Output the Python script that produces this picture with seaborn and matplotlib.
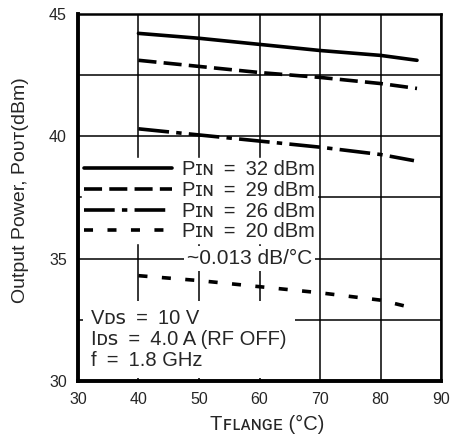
import numpy as np
import pandas as pd
import seaborn as sns
import matplotlib.pyplot as plt

# Datos (temperatura de brida vs potencia de salida)
temp = [40, 50, 60, 70, 80, 86]
pout_32 = [44.2, 44.0, 43.75, 43.5, 43.3, 43.1]
pout_29 = [43.1, 42.85, 42.6, 42.4, 42.15, 41.95]
temp_26 = [40, 50, 60, 70, 80, 85.5]
pout_26 = [40.3, 40.05, 39.8, 39.55, 39.25, 39.0]
temp_20 = [40, 50, 60, 70, 80, 85]
pout_20 = [34.3, 34.1, 33.85, 33.6, 33.3, 33.0]

sp = "\u2002"
labels = [f"Pɪɴ{sp}={sp}32 dBm", f"Pɪɴ{sp}={sp}29 dBm", f"Pɪɴ{sp}={sp}26 dBm", f"Pɪɴ{sp}={sp}20 dBm"]
x_ticks = [30, 40, 50, 60, 70, 80, 90]
y_ticks = [30, 35, 40, 45]

sns.set_style("white")
plt.rcParams['font.family'] = ['Liberation Sans', 'DejaVu Sans']

df = pd.concat([
    pd.DataFrame({'T': temp, 'P': pout_32, 'serie': labels[0]}),
    pd.DataFrame({'T': temp, 'P': pout_29, 'serie': labels[1]}),
    pd.DataFrame({'T': temp_26, 'P': pout_26, 'serie': labels[2]}),
    pd.DataFrame({'T': temp_20, 'P': pout_20, 'serie': labels[3]}),
])

estilos = {labels[0]: "", labels[1]: (5, 2), labels[2]: (8.5, 2, 1.5, 2), labels[3]: (2.5, 4)}

fig = plt.figure(figsize=(4.53, 4.45), dpi=100)
ax = fig.add_axes([0.172, 0.144, 0.802, 0.825])

sns.lineplot(data=df, x='T', y='P', hue='serie', style='serie', dashes=estilos,
             palette=['black'] * 4, linewidth=2.6, ax=ax, legend=True, zorder=3)

ax.set_xlim(30, 90)
ax.set_ylim(30, 45)
ax.set_xticks(x_ticks)
ax.set_yticks(y_ticks)
ax.set_yticks([32.5, 37.5, 42.5], minor=True)
ax.tick_params(which='both', length=0, labelsize=11.5)
ax.tick_params(axis='y', pad=8)
ax.tick_params(axis='x', pad=8)
ax.set_axisbelow(True)
ax.grid(True, which='both', color='black', linewidth=1.1)

for lado in ['left', 'bottom']:
    ax.spines[lado].set_linewidth(2.8)
for lado in ['top', 'right']:
    ax.spines[lado].set_linewidth(1.8)
for s in ax.spines.values():
    s.set_color('black')
    s.set_zorder(5)

ax.set_xlabel("Tꜰʟᴀɴɢᴇ (°C)", fontsize=14.5)
ax.set_ylabel("Output Power, Pᴏᴜᴛ(dBm)", fontsize=14)
ax.xaxis.set_label_coords(0.52, -0.092)
ax.yaxis.set_label_coords(-0.135, 0.52)

leg = ax.legend(loc='upper left', bbox_to_anchor=(0.01, 0.606), fontsize=14.5,
                handlelength=4.4, handletextpad=0.5, labelspacing=0.08,
                frameon=True, fancybox=False, borderpad=0.1, borderaxespad=0.0)
leg.get_frame().set_edgecolor('white')
leg.get_frame().set_facecolor('white')
leg.get_frame().set_alpha(1)
leg.set_zorder(4)

ax.text(58.3, 35.0, "~0.013 dB/°C", fontsize=15, ha='center', va='center', zorder=6,
        bbox=dict(boxstyle='square,pad=0.15', facecolor='white', edgecolor='none'))

ax.text(32.2, 31.7, f"Vᴅꜱ{sp}={sp}10 V\nIᴅꜱ{sp}={sp}4.0 A (RF OFF)\nf{sp}={sp}1.8 GHz", fontsize=14.5,
        ha='left', va='center', linespacing=1.15, zorder=4,
        bbox=dict(boxstyle='square,pad=0.4', facecolor='white', edgecolor='none'))

plt.savefig('out.png', dpi=100)
